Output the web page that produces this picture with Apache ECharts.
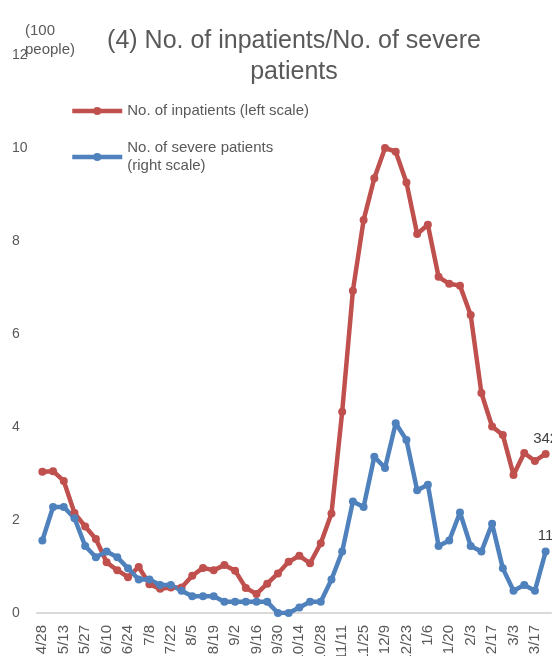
<!DOCTYPE html>
<html>
<head>
<meta charset="utf-8">
<script src="https://cdn.jsdelivr.net/npm/echarts@6/dist/echarts.min.js"></script>
<style>
  html, body { margin: 0; padding: 0; background: #fff; }
  #chart { width: 552px; height: 656px; }
</style>
</head>
<body>
<div id="chart"></div>
<script>
// weekly dates, a label is shown on every other one
const dates = ['4/28', '5/6', '5/13', '5/20', '5/27', '6/3', '6/10', '6/17', '6/24', '7/1',
  '7/8', '7/15', '7/22', '7/29', '8/5', '8/12', '8/19', '8/26', '9/2', '9/9',
  '9/16', '9/23', '9/30', '10/7', '10/14', '10/21', '10/28', '11/4', '11/11', '11/18',
  '11/25', '12/2', '12/9', '12/16', '12/23', '12/30', '1/6', '1/13', '1/20', '1/27',
  '2/3', '2/10', '2/17', '2/24', '3/3', '3/10', '3/17', '3/24']

// people (left scale is shown in hundreds)
const inpatients = [304, 305, 284, 215, 186, 159, 109, 92, 77, 99,
  62, 52, 55, 55, 80, 97, 92, 103, 91, 54,
  41, 63, 85, 110, 123, 107, 150, 214, 433, 693,
  845, 935, 1000, 992, 926, 815, 835, 723, 708, 704,
  641, 473, 401, 383, 297, 344, 327, 342]

// people (right scale)
const severe = [13, 19, 19, 17, 12, 10, 11, 10, 8, 6,
  6, 5, 5, 4, 3, 3, 3, 2, 2, 2,
  2, 2, 0, 0, 1, 2, 2, 6, 11, 20,
  19, 28, 26, 34, 31, 22, 23, 12, 13, 18,
  12, 11, 16, 8, 4, 5, 4, 11]

const seriesName = ['No. of inpatients (left scale)', 'No. of severe patients (right scale)']
const itemColor = ['#C0504D', '#4F81BD']
const textColor = '#595959'
const font = "'Liberation Sans', Arial, sans-serif"

const chart = echarts.init(document.getElementById('chart'))

function lastOnly(p) {
  return p.dataIndex === dates.length - 1 ? String(p.value) : ''
}

function makeSeries(idx, data) {
  return {
    name: seriesName[idx],
    type: 'line',
    yAxisIndex: idx,
    data: data,
    symbol: 'circle',
    symbolSize: 8,
    showAllSymbol: true,
    itemStyle: { color: itemColor[idx] },
    lineStyle: { width: 4.5, color: itemColor[idx] },
    label: {
      show: true,
      position: 'top',
      distance: 4,
      color: '#404040',
      fontSize: 15,
      fontFamily: font,
      formatter: lastOnly
    },
    labelLayout: { hideOverlap: false },
    animation: false
  }
}

chart.setOption({
  textStyle: { fontFamily: font },
  title: {
    text: '(4) No. of inpatients/No. of severe\npatients',
    left: 289,
    top: 21,
    textAlign: 'center',
    textStyle: {
      fontSize: 25,
      fontWeight: 'normal',
      color: textColor,
      lineHeight: 31,
      fontFamily: font
    }
  },
  graphic: [{
    type: 'text',
    left: 25,
    top: 21,
    style: {
      text: '(100\npeople)',
      fontSize: 15,
      lineHeight: 19,
      fill: textColor,
      fontFamily: font
    }
  }],
  legend: [{
    data: [seriesName[0]],
    left: 70,
    top: 102,
    padding: 0,
    itemWidth: 50,
    itemHeight: 10,
    lineStyle: { width: 4.5 },
    textStyle: { fontSize: 15, color: textColor, lineHeight: 18, fontFamily: font }
  }, {
    data: [seriesName[1]],
    left: 70,
    top: 139,
    padding: 0,
    itemWidth: 50,
    itemHeight: 10,
    lineStyle: { width: 4.5 },
    formatter: function () { return 'No. of severe patients\n(right scale)' },
    textStyle: { fontSize: 15, color: textColor, lineHeight: 18, fontFamily: font }
  }],
  grid: {
    left: 37,
    right: 1,
    top: 55,
    bottom: 43,
    outerBoundsMode: 'none',
    containLabel: false
  },
  xAxis: {
    type: 'category',
    data: dates,
    boundaryGap: true,
    axisLine: { lineStyle: { color: '#d9d9d9', width: 2 } },
    axisTick: { show: false },
    axisLabel: {
      interval: 1,
      rotate: 90,
      margin: 12,
      fontSize: 15,
      color: textColor,
      fontFamily: font
    }
  },
  yAxis: [{
    type: 'value',
    min: 0,
    max: 1200,
    interval: 200,
    axisLine: { show: false },
    axisTick: { show: false },
    splitLine: { show: false },
    axisLabel: {
      align: 'left',
      margin: 25,
      fontSize: 14,
      color: textColor,
      fontFamily: font,
      formatter: v => v / 100
    }
  }, {
    type: 'value',
    min: 0,
    max: 100,
    show: false,
    splitLine: { show: false }
  }],
  series: [
    makeSeries(0, inpatients),
    makeSeries(1, severe)
  ]
})
</script>
</body>
</html>
